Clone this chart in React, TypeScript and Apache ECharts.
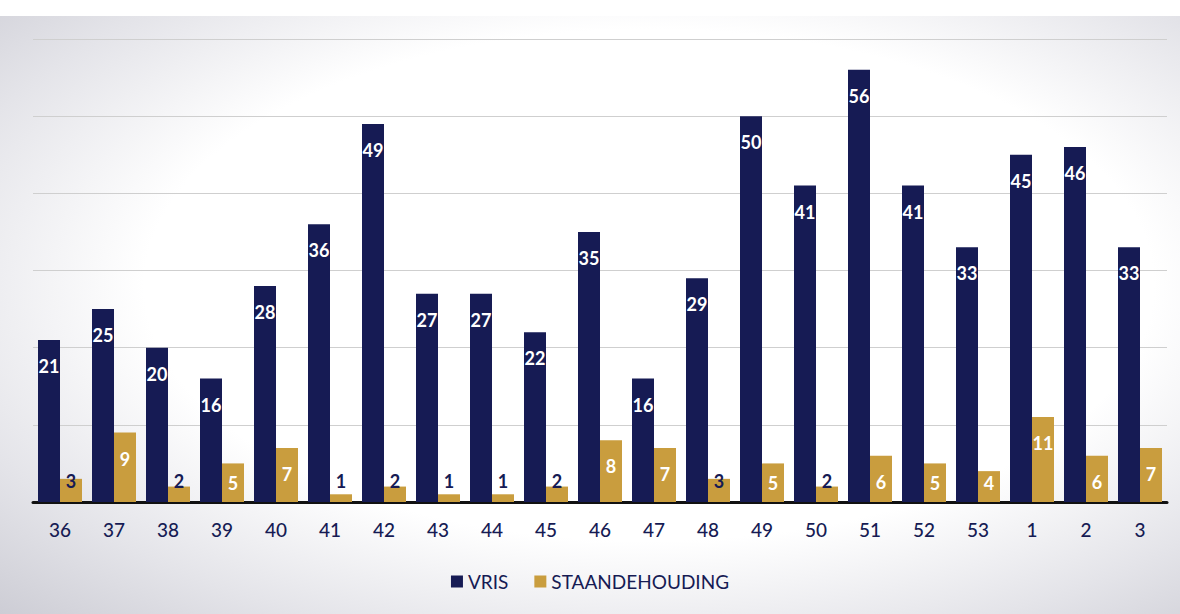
import React, { useEffect, useRef } from "react";
import * as echarts from "echarts";

const weeks = ["36", "37", "38", "39", "40", "41", "42", "43", "44", "45", "46", "47", "48", "49", "50", "51", "52", "53", "1", "2", "3"];
const vris = [21, 25, 20, 16, 28, 36, 49, 27, 27, 22, 35, 16, 29, 50, 41, 56, 41, 33, 45, 46, 33];
const staandehouding = [3, 9, 2, 5, 7, 1, 2, 1, 1, 2, 8, 7, 3, 5, 2, 6, 5, 4, 11, 6, 7];

const NAVY = "#161b54";
const GOLD = "#c99d3e";
const FONT = "Lato, 'Open Sans', sans-serif";

export default function App() {
  const ref = useRef<HTMLDivElement>(null);
  useEffect(() => {
    document.body.style.margin = "0";
    const chart = echarts.init(ref.current!, undefined, { renderer: "svg" });
    const goldData = staandehouding.map((v) => {
      if (v <= 3) {
        return { value: v, label: { position: "insideBottom", distance: 12, color: NAVY } };
      }
      if (v <= 5) {
        return { value: v, label: { position: "insideBottom", distance: 10, color: "#ffffff" } };
      }
      return { value: v };
    });
    const labelStyle = {
      show: true,
      position: "insideTop",
      distance: 17,
      color: "#ffffff",
      fontSize: 18,
      fontWeight: "bold",
      fontFamily: FONT,
    };
    chart.setOption({
      animation: false,
      backgroundColor: "transparent",
      textStyle: { fontFamily: FONT },
      grid: { left: 33, right: 13, top: 39, bottom: 112 },
      legend: {
        bottom: 18,
        left: "center",
        itemWidth: 12,
        itemHeight: 12,
        itemGap: 26,
        icon: "rect",
        textStyle: { color: NAVY, fontSize: 19, fontFamily: FONT },
        data: ["VRIS", "STAANDEHOUDING"],
      },
      xAxis: {
        type: "category",
        data: weeks,
        axisLine: { lineStyle: { color: "#111111", width: 3 } },
        axisTick: { show: false },
        axisLabel: { color: NAVY, fontSize: 19, margin: 18, fontFamily: FONT, fontWeight: 500 },
      },
      yAxis: {
        type: "value",
        min: 0,
        max: 60,
        interval: 10,
        axisLabel: { show: false },
        axisLine: { show: false },
        axisTick: { show: false },
        splitLine: { lineStyle: { color: "#cfcfcf", width: 1.2 } },
      },
      series: [
        {
          name: "VRIS",
          type: "bar",
          data: vris,
          barWidth: 22,
          barGap: "0%",
          itemStyle: { color: NAVY },
          label: labelStyle,
        },
        {
          name: "STAANDEHOUDING",
          type: "bar",
          data: goldData,
          barWidth: 22,
          itemStyle: { color: GOLD },
          label: labelStyle,
        },
      ],
    });
    return () => chart.dispose();
  }, []);
  return (
    <div
      style={{
        position: "absolute",
        left: 0,
        top: 0,
        width: 1180,
        height: 614,
        background: "#ffffff",
      }}
    >
      <div
        style={{
          position: "absolute",
          left: 0,
          top: 16,
          width: 1180,
          height: 598,
          background: "radial-gradient(ellipse at 55% 45%, #ffffff 55%, #e4e4e9 80%, #cdcdd5 100%)",
        }}
      />
      <div ref={ref} style={{ position: "absolute", left: 0, top: 0, width: 1180, height: 614 }} />
    </div>
  );
}
